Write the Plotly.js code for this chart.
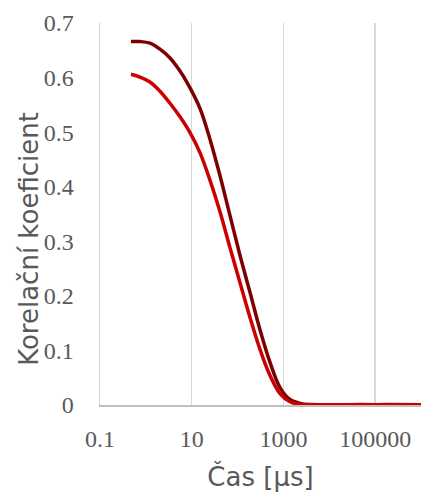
<!DOCTYPE html>
<html>
<head>
<meta charset="utf-8">
<script src="https://cdn.plot.ly/plotly-3.0.1.min.js"></script>
<style>html,body{margin:0;padding:0;background:#fff;}#chart{width:421px;height:492px;}</style>
</head>
<body>
<div id="chart"></div>
<script>
// Time [µs]
const timeA = [0.474, 0.745, 1.23, 2.03, 3.36, 5.55, 9.18, 15.2, 25.0, 41.4, 68.4, 113, 187, 308, 510, 842, 1390, 2300, 3800, 10000, 50000, 200000, 1000000];
const corrA = [0.666, 0.666, 0.663, 0.652, 0.636, 0.612, 0.581, 0.543, 0.487, 0.420, 0.347, 0.274, 0.206, 0.138, 0.078, 0.032, 0.010, 0.003, 0.0008, 0.0006, 0.0005, 0.0007, 0.0005];
const timeB = [0.474, 0.745, 1.23, 2.03, 3.36, 5.55, 9.18, 15.2, 25.0, 41.4, 68.4, 113, 187, 308, 510, 842, 1390, 2300, 3800, 10000, 50000, 200000, 1000000];
const corrB = [0.606, 0.601, 0.592, 0.575, 0.553, 0.528, 0.499, 0.462, 0.412, 0.354, 0.288, 0.224, 0.160, 0.102, 0.054, 0.021, 0.006, 0.001, 0.0006, 0.0005, 0.0007, 0.0005, 0.0006];
const xTickVals = [0.1, 10, 1000, 100000];
const xTickText = ["0.1", "10", "1000", "100000"];
const yTickVals = [0, 0.1, 0.2, 0.3, 0.4, 0.5, 0.6, 0.7];
const yTickText = ["0", "0.1", "0.2", "0.3", "0.4", "0.5", "0.6", "0.7"];
const xTitle = 'Čas [μs]';
const yTitle = 'Korelační koeficient';

const traces = [
  {x: timeA, y: corrA, type: 'scatter', mode: 'lines', line: {color: '#7d0000', width: 3.5, shape: 'spline', smoothing: 1}, showlegend: false},
  {x: timeB, y: corrB, type: 'scatter', mode: 'lines', line: {color: '#cc0000', width: 3.5, shape: 'spline', smoothing: 1}, showlegend: false}
];
const tickFont = {family: 'Liberation Serif, serif', size: 24, color: '#595959'};
const titleFont = {family: 'DejaVu Sans, sans-serif', size: 26, color: '#595959'};
const layout = {
  width: 421, height: 492,
  margin: {l: 100, r: 0, t: 23, b: 87, pad: 0},
  paper_bgcolor: '#ffffff', plot_bgcolor: '#ffffff',
  xaxis: {
    type: 'log', range: [-1, 6], tickmode: 'array', tickvals: xTickVals, ticktext: xTickText,
    showgrid: true, gridcolor: '#d9d9d9', gridwidth: 1.5, zeroline: false,
    showline: true, linecolor: '#bfbfbf', linewidth: 1.5,
    ticks: '', tickfont: tickFont, ticklabelstandoff: 12,
    title: {text: xTitle, font: titleFont, standoff: 19}, automargin: false
  },
  yaxis: {
    range: [0, 0.7], tickmode: 'array', tickvals: yTickVals, ticktext: yTickText,
    showgrid: false, zeroline: false, showline: true, linecolor: '#d0d0d0', linewidth: 1.5,
    ticks: '', tickfont: tickFont, ticklabelstandoff: 20, automargin: false
  },
  annotations: [{
    text: yTitle, font: titleFont, textangle: -90, showarrow: false,
    xref: 'paper', yref: 'paper', x: 0, y: 0.435, xanchor: 'center', yanchor: 'middle', xshift: -71
  }]
};
Plotly.newPlot('chart', traces, layout, {staticPlot: true, displayModeBar: false});
</script>
</body>
</html>
